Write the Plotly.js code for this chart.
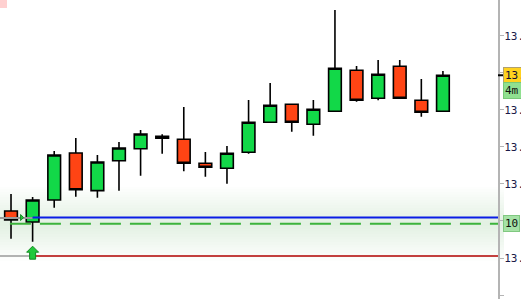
<!DOCTYPE html>
<html><head><meta charset="utf-8">
<script src="https://cdn.plot.ly/plotly-3.0.1.min.js"></script>
<style>html,body{margin:0;padding:0;background:#fff;overflow:hidden}#chart{width:521px;height:299px}</style>
</head><body><div id="chart"></div><script>
// ---- data ----
const barIndex = [0,1,2,3,4,5,6,7,8,9,10,11,12,13,14,15,16,17,18,19,20];
const openP  = [13.1135,13.0986,13.1284,13.1919,13.1410,13.1815,13.1977,13.2145,13.2104,13.1780,13.1712,13.1928,13.2334,13.2577,13.2307,13.2482,13.3037,13.2658,13.3091,13.2631,13.2482];
const highP  = [13.1365,13.1324,13.1946,13.2122,13.1892,13.2068,13.2230,13.2172,13.2541,13.1932,13.2014,13.2635,13.2865,13.2577,13.2635,13.3851,13.3095,13.3176,13.3176,13.2919,13.3027];
const lowP   = [13.0761,13.0720,13.1180,13.1328,13.1315,13.1410,13.1612,13.1910,13.1672,13.1599,13.1504,13.1910,13.2334,13.2207,13.2153,13.2482,13.2612,13.2631,13.2658,13.2410,13.2482];
const closeP = [13.1014,13.1284,13.1892,13.1423,13.1797,13.1987,13.2176,13.2118,13.1780,13.1726,13.1915,13.2334,13.2564,13.2334,13.2510,13.3064,13.2631,13.2983,13.2658,13.2469,13.2969];
const tickValues = [13.00,13.05,13.10,13.15,13.20,13.25,13.30,13.35,13.40];
const tickLabels = ["13.000","13.050","","13.150","13.200","13.250","","13.350","13.400"];
const levelBlue = 13.1047;   // order line
const levelDashed = 13.0964; // entry level
const levelRed = 13.0527;    // stop level
const levelLabel = "10";
const priceLabel = "13.297";
const timerLabel = "4m 12s";
const entryBar = 1;

const yRange = [12.9946, 13.3986];
const xRange = [-0.51, 22.55];

const shapes = [];
// gradient band around entry level
const bandLayers = 14;
for (let k = 1; k <= bandLayers; k++) {
  const h = 0.05 * k / bandLayers;
  shapes.push({type:'rect', xref:'paper', yref:'y', x0:0, x1:1.012, y0:levelDashed-h, y1:levelDashed+h,
    fillcolor:'rgba(60,180,60,0.013)', line:{width:0}, layer:'below'});
}
// grey pre-segments
shapes.push({type:'line', xref:'x', yref:'y', x0:xRange[0], x1:entryBar, y0:levelBlue-0.0008, y1:levelBlue-0.0008, line:{color:'#9a9a9a', width:2}});
shapes.push({type:'line', xref:'x', yref:'y', x0:xRange[0], x1:entryBar, y0:levelRed, y1:levelRed, line:{color:'#9a9a9a', width:1.5}});
// blue line
shapes.push({type:'line', xref:'x', yref:'y', x0:entryBar, x1:xRange[1], y0:levelBlue, y1:levelBlue, line:{color:'#0a1ee6', width:2.2}});
// dashed green
shapes.push({type:'line', xref:'x', yref:'y', x0:-0.05, x1:xRange[1], y0:levelDashed, y1:levelDashed, line:{color:'#3cb43c', width:2, dash:'21px,9px'}});
// red line
shapes.push({type:'line', xref:'x', yref:'y', x0:entryBar, x1:xRange[1], y0:levelRed, y1:levelRed, line:{color:'#b00000', width:1.6}});
// up arrow
shapes.push({type:'path', xref:'x', yref:'y', xsizemode:'pixel', ysizemode:'pixel', xanchor:entryBar, yanchor:levelRed-0.0043,
  path:'M -3,0 L 3,0 L 3,7 L 6,7 L 0,13 L -6,7 L -3,7 Z', fillcolor:'#22c83a', line:{color:'#138a22', width:1}});
// small flag
shapes.push({type:'path', xref:'x', yref:'y', xsizemode:'pixel', ysizemode:'pixel', xanchor:entryBar, yanchor:levelBlue,
  path:'M -12,3 L -9,0 L -12,-3 Z', fillcolor:'#22c83a', line:{color:'#138a22', width:1}});
// current price tick
shapes.push({type:'line', xref:'paper', yref:'y', x0:1.0, x1:1.01, y0:closeP[closeP.length-1], y1:closeP[closeP.length-1], line:{color:'#000', width:2}});
// top-left marker
shapes.push({type:'rect', xref:'paper', yref:'paper', x0:0, x1:7/498, y0:1-8/299, y1:1, fillcolor:'#ffd0d0', line:{width:0}});

const annotations = [
  {xref:'paper', yref:'y', x:1, y:closeP[closeP.length-1], xanchor:'left', yanchor:'middle', xshift:5, showarrow:false,
   text:priceLabel, align:'left', bgcolor:'#ffd21e', bordercolor:'#b0a070', borderwidth:1, borderpad:1,
   font:{family:'DejaVu Sans Mono', size:11, color:'#101030'}},
  {xref:'paper', yref:'y', x:1, y:closeP[closeP.length-1], xanchor:'left', yanchor:'middle', xshift:5, yshift:-15, showarrow:false,
   text:timerLabel, align:'left', bgcolor:'#90e090', bordercolor:'#78c878', borderwidth:1, borderpad:1,
   font:{family:'DejaVu Sans Mono', size:11, color:'#101010'}},
  {xref:'paper', yref:'y', x:1, y:levelDashed, xanchor:'left', yanchor:'middle', xshift:5, showarrow:false,
   text:levelLabel, align:'left', bgcolor:'#a6e2a6', bordercolor:'#80c880', borderwidth:1, borderpad:1,
   font:{family:'DejaVu Sans Mono', size:11, color:'#101010'}}
];

const trace = {
  type:'candlestick', x:barIndex, open:openP, high:highP, low:lowP, close:closeP,
  increasing:{fillcolor:'#12d848', line:{color:'#000000', width:1.6}},
  decreasing:{fillcolor:'#ff4414', line:{color:'#000000', width:1.6}},
  whiskerwidth:0, hoverinfo:'skip', showlegend:false
};

const layout = {
  width:521, height:299, margin:{l:0, r:23, t:0, b:0, pad:0},
  paper_bgcolor:'#ffffff', plot_bgcolor:'#ffffff', showlegend:false, boxgap:0.16,
  xaxis:{range:xRange, visible:false, fixedrange:true, rangeslider:{visible:false}},
  yaxis:{range:yRange, side:'right', showgrid:false, zeroline:false, showline:true, linecolor:'#b4b4b4', linewidth:2,
    ticks:'outside', ticklen:4, tickwidth:1, tickcolor:'#b4b4b4', tickvals:tickValues, ticktext:tickLabels,
    ticklabelstandoff:-2,
    tickfont:{family:'DejaVu Sans Mono', size:11, color:'#1a1a48'}, fixedrange:true},
  shapes:shapes, annotations:annotations
};
Plotly.newPlot('chart', [trace], layout, {staticPlot:true, displayModeBar:false});
</script></body></html>
